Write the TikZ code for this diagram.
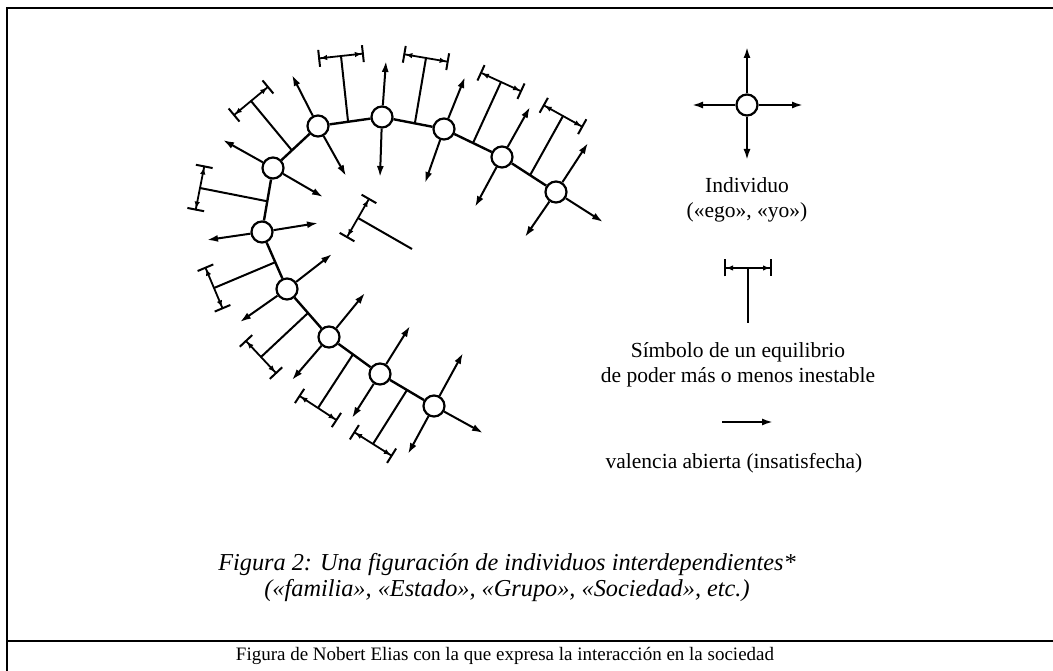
\documentclass[tikz,border=0pt]{standalone}
\usepackage{fontspec}
\usepackage{graphicx}
\setmainfont{Liberation Serif}
\usetikzlibrary{arrows.meta,calc}
\begin{document}
\begin{tikzpicture}[x=1pt,y=-1pt,
  ind/.style={circle,draw,line width=2.2pt,minimum size=21pt,inner sep=0pt,fill=white},
  valarrow/.style={line width=2pt,-{Latex[length=11pt,width=7pt]}},
  linkline/.style={line width=2.4pt},
  stemline/.style={line width=2pt},
  balbar/.style={line width=1.8pt,{Bar[width=17pt,line width=2pt]Latex[length=7pt,width=5.5pt]}-{Latex[length=7pt,width=5.5pt]Bar[width=17pt,line width=2pt]}},
  frameline/.style={line width=2.2pt},
  lbltxt/.style={font=\fontsize{21.5}{25}\selectfont,align=center,inner sep=0pt},
  captxt/.style={font=\fontsize{24.3}{26}\selectfont\itshape,align=center,inner sep=0pt},
  foottxt/.style={font=\fontsize{19}{20}\selectfont,inner sep=0pt}
]
\useasboundingbox (0,0) rectangle (1053,671);
\fill[white] (0,0) rectangle (1053,671);
% frame
\draw[frameline] (7,671) -- (7,8) -- (1053,8);
\draw[frameline] (7,641) -- (1053,641);

% individuals
\foreach \n/\x/\y in {A/556/192,B/502/157,C/444/129,D/382/117,E/318/126,F/273/168,G/262/232,H/287/289,I/329/337,J/380/374,K/434/406}
  \node[ind] (\n) at (\x,\y) {};

% links
\draw[linkline] (A) -- (B) -- (C) -- (D) -- (E) -- (F) -- (G) -- (H) -- (I) -- (J) -- (K);

% open valences
\foreach \n/\i/\x/\y in {A/1/588/143,A/2/603/222,A/3/525/237,B/1/530/107,B/2/475/207,C/1/465/77,C/2/425/183,D/1/386/61,D/2/380/177,E/1/292/75,E/2/346/176,F/1/223/140,F/2/323/197,G/1/207/240,G/2/318/223,H/1/332/254,H/2/240/322,I/1/365/293,I/2/292/380,J/1/410/326,J/2/352/418,K/1/463/353,K/2/483/433,K/3/408/454}
{
  \coordinate (v\n\i) at (\x,\y);
  \draw[valarrow] (\n) -- (v\n\i);
}

% balance symbols on links
\foreach \k/\p/\q/\t/\x/\y in {1/E/D/0.47/341/56,2/D/C/0.53/426/58,3/C/B/0.5/501/82,4/B/A/0.52/563/116,5/E/F/0.58/251/101,6/F/G/0.52/200/188,7/G/H/0.53/214/288,8/H/I/0.5/261/357,9/I/J/0.47/318/408,10/J/K/0.5/373/444}
{
  \coordinate (tb\k) at ($(\p)!\t!(\q)$);
  \coordinate (tt\k) at (\x,\y);
  \draw[stemline] (tb\k) -- (tt\k);
  \draw[balbar] ($(tt\k)!23pt!90:(tb\k)$) -- ($(tt\k)!23pt!-90:(tb\k)$);
}
% floating balance symbol
\coordinate (fb) at (412,249);
\coordinate (ft) at (358,218);
\draw[stemline] (fb) -- (ft);
\draw[balbar] ($(ft)!23pt!90:(fb)$) -- ($(ft)!23pt!-90:(fb)$);

% legend: individual
\node[ind] (L) at (747,105) {};
\coordinate (Lu) at (747,47);
\coordinate (Ll) at (692,105);
\coordinate (Lr) at (803,105);
\coordinate (Ld) at (747,160);
\draw[valarrow] (L) -- (Lu);
\draw[valarrow] (L) -- (Ll);
\draw[valarrow] (L) -- (Lr);
\draw[valarrow] (L) -- (Ld);
\node[lbltxt] (indlbl) at (747,200) {Individuo\\(«ego», «yo»)};

% legend: balance
\coordinate (lb) at (748,323);
\coordinate (lt) at (748,268);
\draw[stemline] (lb) -- (lt);
\draw[balbar] ($(lt)!24pt!90:(lb)$) -- ($(lt)!24pt!-90:(lb)$);
\node[lbltxt] (ballbl) at (738,365) {Símbolo de un equilibrio\\de poder más o menos inestable};

% legend: valence
\coordinate (la) at (722,422);
\coordinate (lz) at (773,422);
\draw[valarrow] (la) -- (lz);
\node[lbltxt] (vallbl) at (734,463) {valencia abierta (insatisfecha)};

% captions
\node[captxt] (cap1) at (507,565) {Figura 2: Una figuración de individuos interdependientes*};
\node[captxt] (cap2) at (507,591) {(«familia», «Estado», «Grupo», «Sociedad», etc.)};
\node[foottxt] (foot) at (505,656) {Figura de Nobert Elias con la que expresa la interacción en la sociedad};
\end{tikzpicture}
\end{document}
